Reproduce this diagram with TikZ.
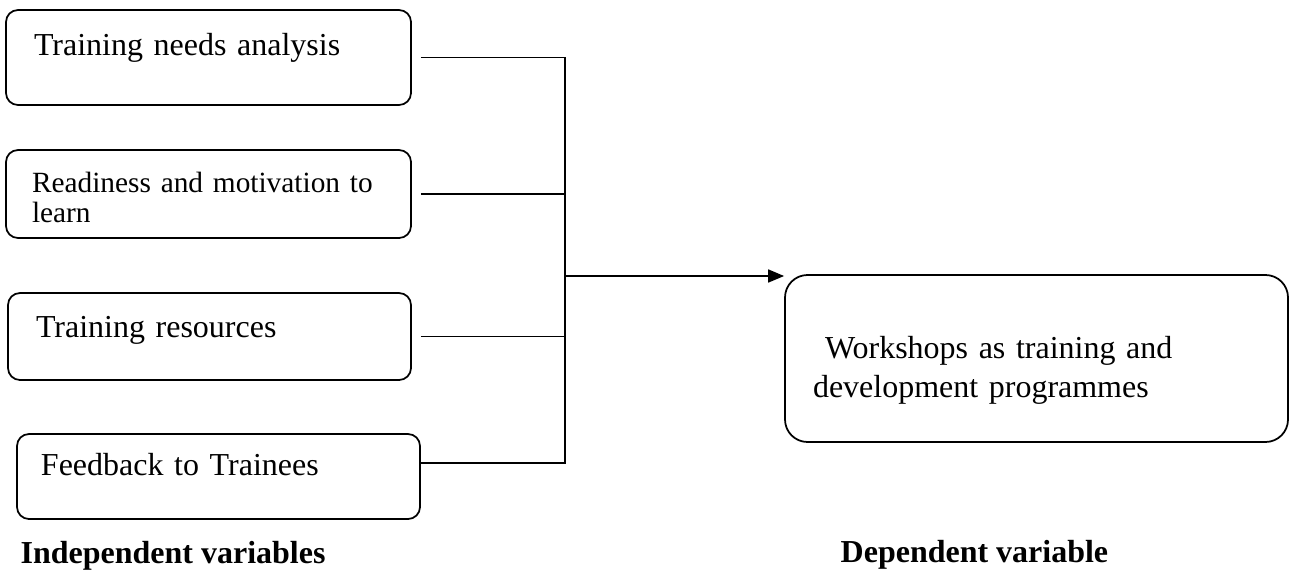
\documentclass[tikz,border=0pt]{standalone}
\usepackage{fontspec}
\setmainfont{Liberation Serif}
\usetikzlibrary{arrows.meta,positioning}
\newcommand\boxsize{\fontsize{18.2}{22.2}\selectfont}
\newcommand\smallboxsize{\fontsize{16.7}{17.6}\selectfont}

\begin{document}
\begin{tikzpicture}[line width=1pt, on grid, node distance=2.8cm,
	varbox/.style={draw, rounded corners=0.24cm, inner ysep=0pt, align=left, font=\boxsize},
	vartitle/.style={anchor=base west, font=\boxsize\bfseries}]
	\useasboundingbox (0,0) rectangle (25.78,-11.4);
	\node[varbox, inner xsep=0.56cm, text width=6.98cm, text height=0.9cm, text depth=1cm] (tna) at (4.17,-1.15) {Training needs analysis};
	\node[varbox, font=\smallboxsize, inner xsep=0.52cm, text width=7.06cm, text height=0.84cm, text depth=0.92cm] (rml) [below=2.73cm of tna] {Readiness and motivation to\\learn};
	\node[varbox, inner xsep=0.56cm, text width=6.94cm, text height=0.88cm, text depth=0.86cm] (tr) [below right=2.85cm and 0.02cm of rml] {Training resources};
	\node[varbox, inner xsep=0.48cm, text width=7.1cm, text height=0.82cm, text depth=0.88cm] (fb) [below right=2.8cm and 0.18cm of tr] {Feedback to Trainees};
	\node[varbox, rounded corners=0.45cm, inner xsep=0.56cm, text width=8.94cm, text height=1.66cm, text depth=1.68cm] (wtd) [below right=6.02cm and 16.56cm of tna] {\hspace{0.24cm}Workshops as training and\\development programmes};
	\coordinate (merge) at (11.3,-5.52);
	\coordinate (fbout) at ([yshift=0.27cm]fb.east);
	\draw (tna.east -| fbout) -- (tna.east -| merge) -- (fbout -| merge) -- (fbout);
	\draw (rml.east -| fbout) -- (rml.east -| merge)
	      (tr.east -| fbout) -- (tr.east -| merge);
	\draw[-{Triangle[length=0.32cm,width=0.26cm]}] (merge) -- (merge -| wtd.west);
	\node[vartitle] (iv) at (0.28,-11.26) {Independent variables};
	\node[vartitle] (dv) at (16.68,-11.24) {Dependent variable};
\end{tikzpicture}
\end{document}
